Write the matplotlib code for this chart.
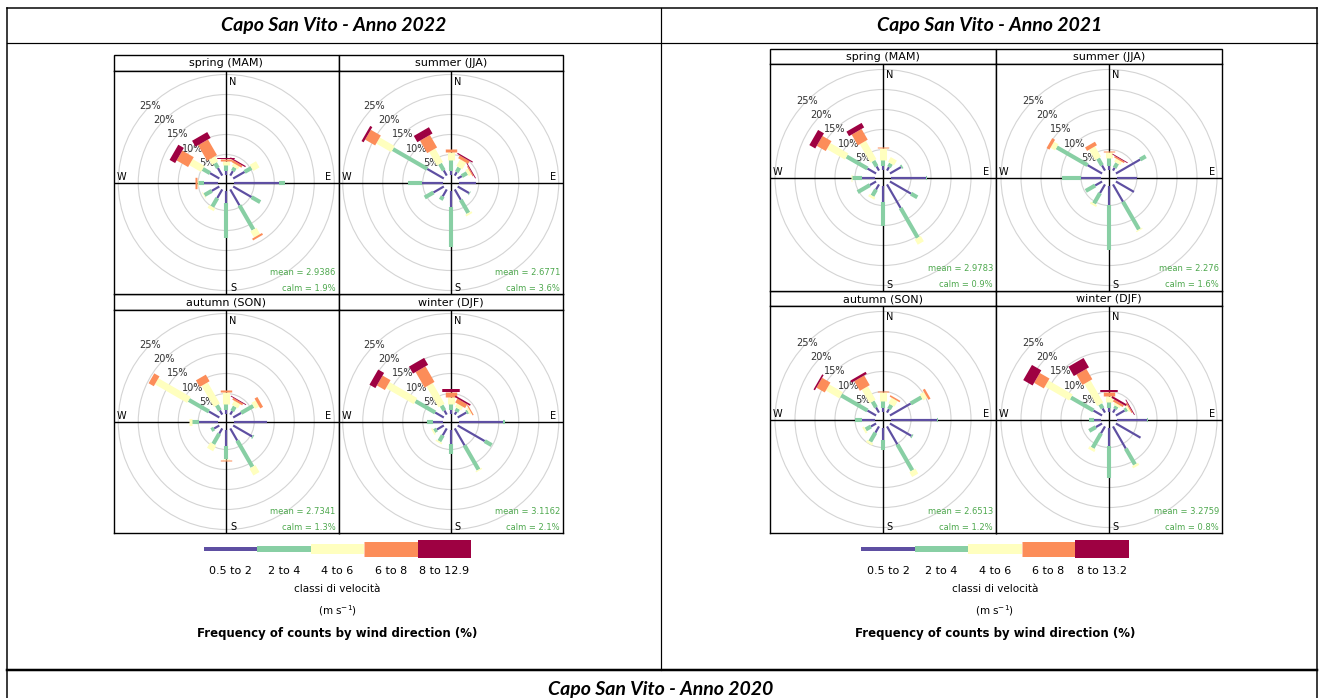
import matplotlib
matplotlib.use('Agg')
import matplotlib.pyplot as plt
import numpy as np
from matplotlib.patches import Rectangle, Circle

# ---------------------------------------------------------------
# data: frequency (%) by direction (rows) and speed class (columns)
# ---------------------------------------------------------------
directions = [0, 30, 60, 90, 120, 150, 180, 210, 240, 270, 300, 330]
seasons = ['spring (MAM)', 'summer (JJA)', 'autumn (SON)', 'winter (DJF)']
classes_2022 = ['0.5 to 2', '2 to 4', '4 to 6', '6 to 8', '8 to 12.9']
classes_2021 = ['0.5 to 2', '2 to 4', '4 to 6', '6 to 8', '8 to 13.2']
pct_rings = [5, 10, 15, 20, 25]

spring_2022 = [[1.0, 1.3, 1.0, 0.6, 0.3], [1.3, 1.0, 0.8, 0.6, 0.3], [3.3, 2.0, 1.8, 0, 0],
               [11.1, 1.6, 0, 0, 0], [5.3, 2.5, 0, 0, 0], [4.6, 7.0, 1.8, 0.5, 0],
               [3.1, 8.8, 0, 0, 0], [2.5, 2.5, 0.8, 0, 0], [2.2, 2.1, 0.2, 0, 0],
               [3.5, 1.6, 0.3, 0.35, 0], [2.7, 2.1, 3.4, 3.3, 1.6], [2.2, 1.4, 1.5, 4.5, 1.7]]
summer_2022 = [[1.0, 2.7, 2.0, 0.6, 0], [1.0, 1.3, 1.9, 0.8, 0.3], [1.2, 1.5, 0.8, 0.3, 0.2],
               [4.2, 0, 0, 0, 0], [3.3, 0.2, 0, 0, 0], [3.0, 3.8, 0.5, 0, 0],
               [4.0, 10.0, 0, 0, 0], [2.0, 1.0, 0, 0, 0], [3.0, 2.5, 0, 0, 0],
               [5.3, 3.4, 0, 0, 0], [4.8, 9.9, 4.3, 2.9, 0.6], [1.5, 1.9, 3.9, 3.6, 1.8]]
autumn_2022 = [[0.8, 1.6, 2.9, 0.5, 0], [1.0, 1.3, 1.2, 0.5, 0.2], [2.3, 3.5, 1.2, 0.8, 0],
               [8.2, 0, 0, 0, 0], [5.5, 0.3, 0, 0, 0], [3.5, 7.6, 2.0, 0, 0],
               [4.0, 3.3, 0.2, 0.3, 0], [1.5, 3.0, 1.6, 0, 0], [1.5, 0.8, 0, 0, 0],
               [4.9, 1.7, 0.8, 0, 0], [3.0, 5.8, 9.3, 1.5, 0], [1.2, 1.5, 6.1, 1.9, 0]]
winter_2022 = [[0.8, 1.6, 1.7, 1.2, 0.9], [0.8, 0.9, 1.0, 1.1, 0.4], [2.5, 0.5, 0.5, 0.3, 0],
               [11.1, 0.4, 0, 0, 0], [7.8, 2.0, 0, 0, 0], [4.9, 7.0, 0.3, 0, 0],
               [3.5, 2.6, 0, 0, 0], [2.0, 1.7, 0.4, 0, 0], [2.0, 0.8, 0.4, 0, 0],
               [2.5, 1.4, 0, 0, 0], [2.5, 5.7, 8.0, 2.3, 1.7], [1.2, 1.4, 6.0, 4.5, 2.0]]

spring_2021 = [[0.8, 1.5, 3.1, 0.3, 0], [1.0, 1.0, 1.4, 0, 0], [3.2, 0.4, 0, 0, 0],
               [8.7, 0.4, 0, 0, 0], [6.1, 1.8, 0, 0, 0], [6.8, 8.6, 1.5, 0, 0],
               [4.0, 6.2, 0, 0, 0], [1.5, 1.8, 0.6, 0, 0], [1.8, 3.5, 0, 0, 0],
               [3.2, 2.6, 0.1, 0.2, 0], [2.5, 6.0, 5.2, 2.6, 1.7], [1.2, 1.6, 5.3, 3.1, 1.3]]
summer_2021 = [[1.0, 1.8, 1.6, 0.3, 0], [0.8, 1.3, 0.9, 0.4, 0.2], [7.0, 1.6, 0, 0, 0],
               [5.1, 0, 0, 0, 0], [5.2, 0, 0, 0, 0], [5.0, 8.0, 0.3, 0, 0],
               [4.8, 11.3, 0, 0, 0], [2.5, 3.0, 0.5, 0, 0], [2.0, 2.7, 0, 0, 0],
               [4.9, 4.8, 0, 0, 0], [4.2, 8.9, 1.3, 0.8, 0], [1.5, 2.0, 3.0, 1.0, 0]]
autumn_2021 = [[0.8, 1.8, 2.2, 0.3, 0], [1.0, 1.2, 1.6, 0.4, 0], [6.0, 3.1, 1.2, 0.6, 0],
               [11.4, 0.4, 0, 0, 0], [6.2, 0.3, 0, 0, 0], [5.2, 7.5, 1.4, 0, 0],
               [3.0, 2.5, 0, 0, 0], [1.8, 2.6, 0.6, 0, 0], [1.5, 1.5, 0.5, 0, 0],
               [3.3, 1.7, 0, 0, 0], [2.5, 7.6, 3.9, 2.4, 0.4], [1.5, 1.7, 3.9, 2.8, 0.6]]
winter_2021 = [[0.8, 1.5, 1.5, 1.0, 0.7], [1.0, 0.8, 0.6, 0.6, 0.5], [2.5, 0.7, 0.5, 0.3, 0.2],
               [7.6, 0.2, 0, 0, 0], [7.1, 0, 0, 0, 0], [6.4, 4.6, 0.6, 0, 0],
               [4.5, 8.1, 0, 0, 0], [2.0, 4.2, 0.7, 0, 0], [1.8, 1.9, 0, 0, 0],
               [1.8, 1.2, 0, 0, 0], [2.5, 6.5, 7.0, 2.8, 2.7], [1.2, 1.2, 6.4, 3.0, 2.7]]

means_2022 = ['2.9386', '2.6771', '2.7341', '3.1162']
calms_2022 = ['1.9', '3.6', '1.3', '2.1']
means_2021 = ['2.9783', '2.276', '2.6513', '3.2759']
calms_2021 = ['0.9', '1.6', '1.2', '0.8']

# ---------------------------------------------------------------
colors = ['#5e4fa2', '#88cfa4', '#ffffbf', '#fc8d59', '#9e0142']
green_txt = '#4ea84e'
W, H = 1323, 698
PX = 4.0        # pixels per percent
HOLE = 2.0      # hole in the middle (percent units)
PT = 0.72       # points per pixel at dpi 100
# paddle widths (px), openair style: seq(0.002^.25, 0.016^.25)^4
paddle_w = 17.5 * np.linspace(0.002 ** 0.25, 0.016 ** 0.25, 5) ** 4 / 0.016

fig = plt.figure(figsize=(W / 100, H / 100), dpi=100)
bg = fig.add_axes([0, 0, 1, 1])
bg.set_xlim(0, W)
bg.set_ylim(H, 0)
bg.axis('off')


def px_axes(x, y, w, h):
    return fig.add_axes([x / W, 1 - (y + h) / H, w / W, h / H])


def draw_rose(ax, freqs, mean, calm, w, h):
    hx, hy = w / PX / 2, h / PX / 2
    ax.set_xlim(-hx, hx)
    ax.set_ylim(-hy, hy)
    ax.set_xticks([])
    ax.set_yticks([])
    for s in ax.spines.values():
        s.set_linewidth(1.0)
    for p in pct_rings:
        ax.add_patch(Circle((0, 0), p + HOLE, fill=False, ec='#d4d4d4', lw=0.8, zorder=1))
        a = np.radians(315)
        ax.text((p + HOLE) * np.sin(a), (p + HOLE) * np.cos(a), '%d%%' % p,
                ha='center', va='center', fontsize=7, color='#333333', zorder=2)
    ax.axhline(0, color='black', lw=1.0, zorder=2)
    ax.axvline(0, color='black', lw=1.0, zorder=2)
    for d, row in zip(directions, freqs):
        th = np.radians(d)
        cum = HOLE + np.concatenate([[0], np.cumsum(row)])
        for i in range(5):
            if row[i] <= 0:
                continue
            r0, r1 = cum[i], cum[i + 1]
            ax.plot([r0 * np.sin(th), r1 * np.sin(th)], [r0 * np.cos(th), r1 * np.cos(th)],
                    color=colors[i], lw=paddle_w[i] * PT, solid_capstyle='butt', zorder=3)
    ax.text(6.7 / PX, hy - 10.7 / PX, 'N', ha='center', va='center', fontsize=7)
    ax.text(6.7 / PX, -hy + 6 / PX, 'S', ha='center', va='center', fontsize=7)
    ax.text(-hx + 7.7 / PX, 5.3 / PX, 'W', ha='center', va='center', fontsize=7)
    ax.text(hx - 10 / PX, 5.3 / PX, 'E', ha='center', va='center', fontsize=7)
    ax.text(1 - 3 / w, 22 / h, 'mean = ' + mean, transform=ax.transAxes,
            ha='right', va='center', fontsize=6, color=green_txt)
    ax.text(1 - 3 / w, 6 / h, 'calm = ' + calm + '%', transform=ax.transAxes,
            ha='right', va='center', fontsize=6, color=green_txt)


def draw_grid(x0, y0, cw, sh, ph, data, means, calms):
    for k in range(4):
        col, row = k % 2, k // 2
        x = x0 + col * cw
        y = y0 + row * (sh + ph)
        bg.add_patch(Rectangle((x, y), cw, sh, fc='white', ec='black', lw=1.0))
        bg.text(x + cw / 2, y + sh / 2 + 0.5, seasons[k], ha='center', va='center', fontsize=8)
        ax = px_axes(x, y + sh, cw, ph)
        draw_rose(ax, data[k], means[k], calms[k], cw, ph)


def draw_legend(cx, labels):
    seg = 53.5
    heights = [4, 6, 10, 15, 18]
    x0 = cx - 2.5 * seg
    for i in range(5):
        bg.plot([x0 + i * seg, x0 + (i + 1) * seg], [549, 549], color=colors[i],
                lw=heights[i] * PT, solid_capstyle='butt')
        bg.text(x0 + (i + 0.5) * seg, 571, labels[i], ha='center', va='center', fontsize=8)
    bg.text(cx, 589, 'classi di velocità', ha='center', va='center', fontsize=7.5)
    bg.text(cx, 611, r'(m s$^{-1}$)', ha='center', va='center', fontsize=7.5)
    bg.text(cx, 634, 'Frequency of counts by wind direction (%)', ha='center', va='center',
            fontsize=8.5, fontweight='bold')


# table lines
bg.plot([7, 1317], [8, 8], color='black', lw=1.5 * PT)
bg.plot([7, 1317], [43, 43], color='black', lw=1.2 * PT)
bg.plot([7, 7], [8, 698], color='black', lw=1.5 * PT)
bg.plot([1317, 1317], [8, 698], color='black', lw=1.5 * PT)
bg.plot([661, 661], [8, 670], color='black', lw=1.2 * PT)
bg.plot([7, 1317], [670, 670], color='black', lw=2.5 * PT)

hfont = dict(family='Lato', fontweight='bold', fontstyle='italic', fontsize=14)
bg.text(334, 26, 'Capo San Vito - Anno 2022', ha='center', va='center', **hfont)
bg.text(990, 26, 'Capo San Vito - Anno 2021', ha='center', va='center', **hfont)
bg.text(661, 689, 'Capo San Vito - Anno 2020', ha='center', va='center', **hfont)

draw_grid(114, 55, 224.5, 16, 223, [spring_2022, summer_2022, autumn_2022, winter_2022],
          means_2022, calms_2022)
draw_grid(770, 49, 226, 15, 227, [spring_2021, summer_2021, autumn_2021, winter_2021],
          means_2021, calms_2021)
draw_legend(337.5, classes_2022)
draw_legend(995, classes_2021)

fig.savefig('out.png', dpi=100)
